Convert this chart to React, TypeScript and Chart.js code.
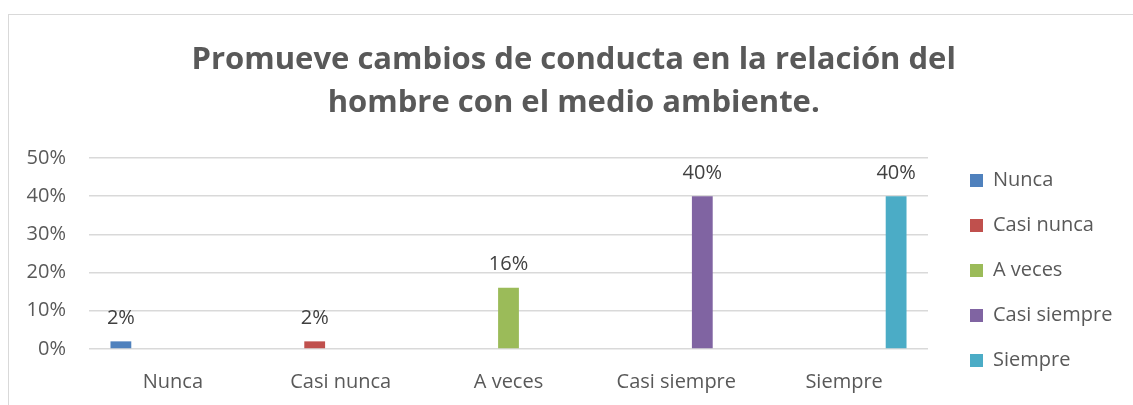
import React, { useEffect, useRef } from "react";
import { Chart, registerables } from "chart.js";

Chart.register(...registerables);

const titleLines = ["Promueve cambios de conducta en la relación del", "hombre con el medio ambiente."];
const categories = ["Nunca", "Casi nunca", "A veces", "Casi siempre", "Siempre"];
const seriesNames = ["Nunca", "Casi nunca", "A veces", "Casi siempre", "Siempre"];
const seriesValues = [2, 2, 16, 40, 40];
const seriesColors = ["#4F81BD", "#C0504D", "#9BBB59", "#8064A2", "#4BACC6"];
const yTicks = [0, 10, 20, 30, 40, 50];

const FONT = "'Open Sans', sans-serif";

export default function App() {
  const ref = useRef<HTMLCanvasElement | null>(null);

  useEffect(() => {
    const canvas = ref.current;
    if (!canvas) return;

    const m = document.createElement("canvas").getContext("2d")!;
    m.font = `normal 20px ${FONT}`;
    const tw = Math.max(...seriesNames.map((s) => m.measureText(s).width));
    const legendPad = 25;
    const legendW = legendPad + 13 + 10 + tw + 10;
    const legendLeft = 945;
    const padR = Math.max(0, 1133 - legendLeft - legendW);
    const padL = Math.min(25, 22 + padR);
    const plotLeft = 89;
    const plotRight = 928;

    const dataLabels = {
      id: "dataLabels",
      afterDatasetsDraw(chart: any) {
        const ctx = chart.ctx;
        ctx.save();
        ctx.font = `normal 20px ${FONT}`;
        ctx.fillStyle = "#404040";
        ctx.textAlign = "center";
        ctx.textBaseline = "alphabetic";
        chart.data.datasets.forEach((ds: any, i: number) => {
          const meta = chart.getDatasetMeta(i);
          meta.data.forEach((el: any, j: number) => {
            const v = ds.data[j];
            if (v === null || v === undefined) return;
            ctx.fillText(`${v}%`, el.x, el.y - 17.5);
          });
        });
        ctx.restore();
      },
    };

    const chart = new Chart(canvas, {
      type: "bar",
      data: {
        labels: categories,
        datasets: seriesNames.map((name, i) => ({
          label: name,
          data: categories.map((_, j) => (j === i ? seriesValues[i] : null)),
          backgroundColor: seriesColors[i],
          borderWidth: 0,
          categoryPercentage: 0.775,
          barPercentage: 0.8,
        })),
      },
      options: {
        animation: false,
        responsive: false,
        devicePixelRatio: 1,
        layout: { padding: { left: padL, right: padR, top: 0, bottom: 0 } },
        plugins: {
          title: {
            display: true,
            text: titleLines,
            color: "#595959",
            font: { family: FONT, size: 31, weight: "bold", lineHeight: 1.37 },
            padding: { top: 39, bottom: 34 },
          },
          legend: {
            display: true,
            position: "right",
            align: "center",
            maxWidth: 400,
            title: { display: true, text: "", font: { size: 10, lineHeight: 1 }, padding: { top: 126, bottom: 0 } },
            labels: {
              boxWidth: 13,
              boxHeight: 13,
              padding: legendPad,
              color: "#595959",
              font: { family: FONT, size: 20 },
            },
          },
          tooltip: { enabled: false },
        },
        scales: {
          x: {
            grid: { display: false },
            border: { display: false },
            ticks: { color: "#595959", font: { family: FONT, size: 20 }, padding: 13, maxRotation: 0 },
            afterFit(scale: any) {
              scale.height = 56;
            },
          },
          y: {
            min: 0,
            max: 50,
            afterBuildTicks(scale: any) {
              scale.ticks = yTicks.map((v) => ({ value: v }));
            },
            grid: { color: "#D9D9D9", lineWidth: 1.5, drawTicks: false },
            border: { display: false },
            ticks: {
              color: "#595959",
              font: { family: FONT, size: 20 },
              padding: 23,
              callback: (v: any) => `${v}%`,
            },
            afterFit(scale: any) {
              scale.width = plotLeft - padL;
            },
          },
          yR: {
            position: "right",
            display: true,
            grid: { display: false },
            border: { display: false },
            ticks: { display: false },
            afterFit(scale: any) {
              scale.width = legendLeft - plotRight;
            },
          },
        },
      },
      plugins: [dataLabels],
    } as any);

    return () => chart.destroy();
  }, []);

  return (
    <div style={{ position: "fixed", left: 0, top: 0, width: "100vw", height: "100vh", overflow: "hidden", background: "#fff" }}>
      <div
        style={{
          position: "absolute",
          left: 8,
          top: 14,
          width: 1150,
          height: 430,
          border: "1.5px solid #D9D9D9",
          boxSizing: "border-box",
        }}
      />
      <canvas ref={ref} width={1133} height={405} style={{ position: "absolute", left: 0, top: 0, width: 1133, height: 405 }} />
    </div>
  );
}
